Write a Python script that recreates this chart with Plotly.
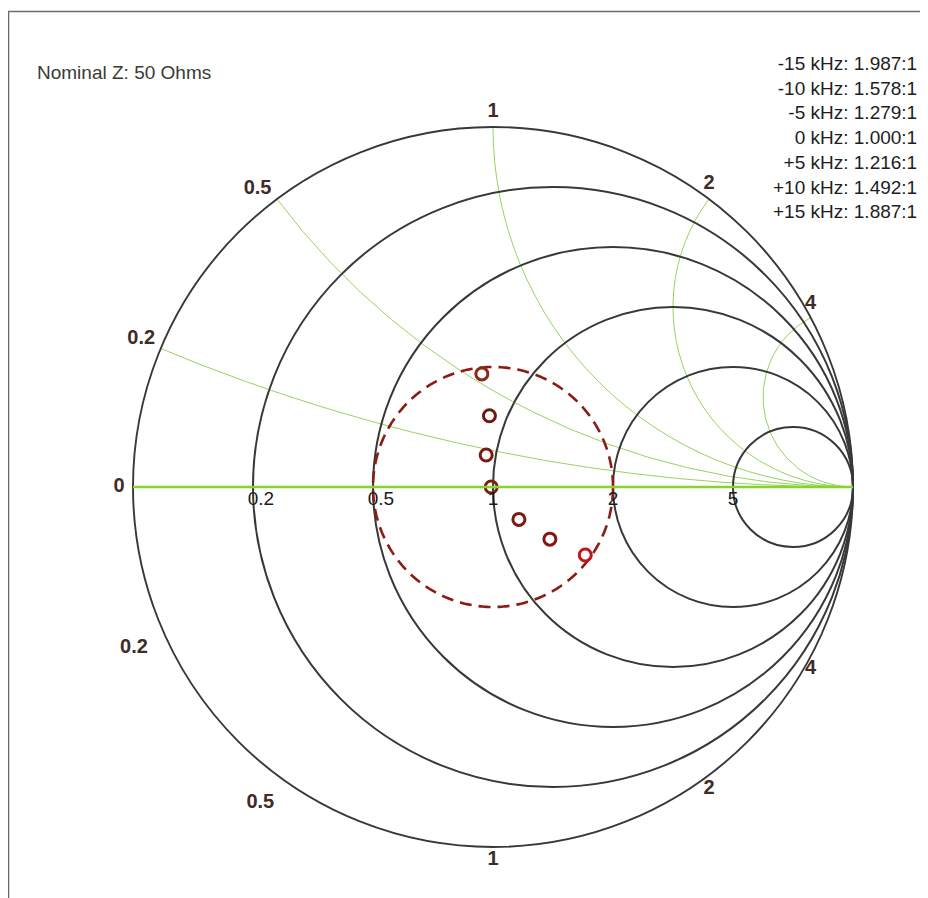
import numpy as np
import plotly.graph_objects as go

# ---- data (normalized impedance) ----
freq_labels = ["-15 kHz", "-10 kHz", "-5 kHz", "0 kHz", "+5 kHz", "+10 kHz", "+15 kHz"]
vswr_values = ["1.987:1", "1.578:1", "1.279:1", "1.000:1", "1.216:1", "1.492:1", "1.887:1"]
z_real = [0.775, 0.907, 0.948, 0.99, 1.135, 1.307, 1.526]
z_imag = [0.541, 0.374, 0.170, 0.0, -0.207, -0.397, -0.642]
marker_colors = ["#8a2a1a", "#6e1a10", "#7a1a12", "#7a2010", "#7a1a12", "#8a1414", "#c01418"]

vswr_circle = 2.0  # dashed reference circle (VSWR 2:1)

real_ticks = [0.2, 0.5, 1, 2, 5]
real_tick_text = ["0.2", "0.5", "1", "2", "5"]
imag_ticks = [0.2, 0.5, 1, 2, 4]
imag_tick_text = ["0.2", "0.5", "1", "2", "4"]

NB = "&nbsp;"
W, H = 920, 890

# ---- VSWR circle in impedance coordinates ----
g = (vswr_circle - 1) / (vswr_circle + 1)
th = np.linspace(0, 2 * np.pi, 361)
gam = g * np.exp(1j * th)
zc = (1 + gam) / (1 - gam)

fig = go.Figure()

fig.add_trace(go.Scattersmith(
    real=zc.real, imag=zc.imag, mode="lines",
    line=dict(color="#8b1c14", width=2.6, dash="12px,7px"),
    hoverinfo="skip", showlegend=False))

fig.add_trace(go.Scattersmith(
    real=z_real, imag=z_imag, mode="markers",
    marker=dict(symbol="circle-open", size=12, color=marker_colors,
                line=dict(width=3, color=marker_colors)),
    text=[f"{f}: {v}" for f, v in zip(freq_labels, vswr_values)],
    showlegend=False))

# ---- imaginary-axis labels around the rim (label style per tick) ----
# (text, textposition, offset-size) for upper and lower rim labels
upper_style = {
    0.2: (imag_tick_text[0] + NB, "top left", 0),
    0.5: (imag_tick_text[1] + NB, "top left", 0),
    1: (imag_tick_text[2], "top center", 6),
    2: (imag_tick_text[3], "top center", 6.4),
    4: (imag_tick_text[4], "top center", 4.8),
}
lower_style = {
    0.2: (imag_tick_text[0], "bottom left", 19),
    0.5: (imag_tick_text[1] + NB * 6, "bottom center", 27),
    1: (imag_tick_text[2], "bottom center", 2.7),
    2: (imag_tick_text[3], "bottom center", 4.8),
    4: (imag_tick_text[4], "bottom center", 3.2),
}
lr, li, lt, lp, ls = [], [], [], [], []
for v in imag_ticks:
    for sgn, st in ((1, upper_style[v]), (-1, lower_style[v])):
        lr.append(0)
        li.append(sgn * v)
        lt.append(st[0])
        lp.append(st[1])
        ls.append(st[2])
lr.append(0); li.append(0); lt.append("0"); lp.append("middle left"); ls.append(12)

fig.add_trace(go.Scattersmith(
    real=lr, imag=li, mode="markers+text", text=lt, textposition=lp,
    marker=dict(size=ls, opacity=0, color="white"),
    textfont=dict(family="Liberation Sans", size=20, color="#3e2c26", weight="bold"),
    cliponaxis=False, hoverinfo="skip", showlegend=False))

# ---- real-axis labels ----
real_pad = {0.2: 3, 0.5: 3, 1: 0, 2: 0, 5: 0}
fig.add_trace(go.Scattersmith(
    real=real_ticks, imag=[0] * len(real_ticks), mode="markers+text",
    text=[NB * real_pad[v] + t for v, t in zip(real_ticks, real_tick_text)],
    textposition="bottom center",
    marker=dict(size=5, opacity=0, color="white"),
    textfont=dict(family="Liberation Sans", size=19, color="#1a1a1a"),
    cliponaxis=False, hoverinfo="skip", showlegend=False))

legend_text = "<br>".join(f"{f}:&nbsp;{v}" for f, v in zip(freq_labels, vswr_values))

fig.update_layout(
    width=W, height=H,
    margin=dict(l=0, r=0, t=0, b=0),
    paper_bgcolor="white",
    font=dict(family="Liberation Sans", color="#222"),
    smith=dict(
        bgcolor="white",
        domain=dict(x=[125 / W, 845 / W], y=[1 - 839 / H, 1 - 119 / H]),
        realaxis=dict(
            tickvals=real_ticks, showgrid=True, gridcolor="#383838", gridwidth=1.8,
            griddash="solid", linecolor="#86d42c", linewidth=2.6,
            showticklabels=False, ticks="",
        ),
        imaginaryaxis=dict(
            tickvals=imag_ticks, showgrid=True, gridcolor="#97d460", gridwidth=1.3,
            griddash="solid", linecolor="#383838", linewidth=1.9,
            showticklabels=False, ticks="",
        ),
    ),
    shapes=[dict(type="rect", xref="paper", yref="paper", x0=0.5 / W, x1=1.02,
                 y0=-0.02, y1=1 - 3.5 / H, line=dict(color="#6b6b6b", width=1.6))],
    annotations=[
        dict(text="Nominal Z: 50 Ohms", xref="paper", yref="paper",
             x=27 / W, y=1 - 65 / H, xanchor="left", yanchor="middle",
             showarrow=False, font=dict(family="Liberation Sans", size=19, color="#3a3a32")),
        dict(text=legend_text,
             xref="paper", yref="paper", x=911 / W, y=1 - 43 / H,
             xanchor="right", yanchor="top", align="right", showarrow=False,
             font=dict(family="Liberation Sans", size=19, color="#1e1e1e")),
    ],
)

fig.write_html("out.html")
